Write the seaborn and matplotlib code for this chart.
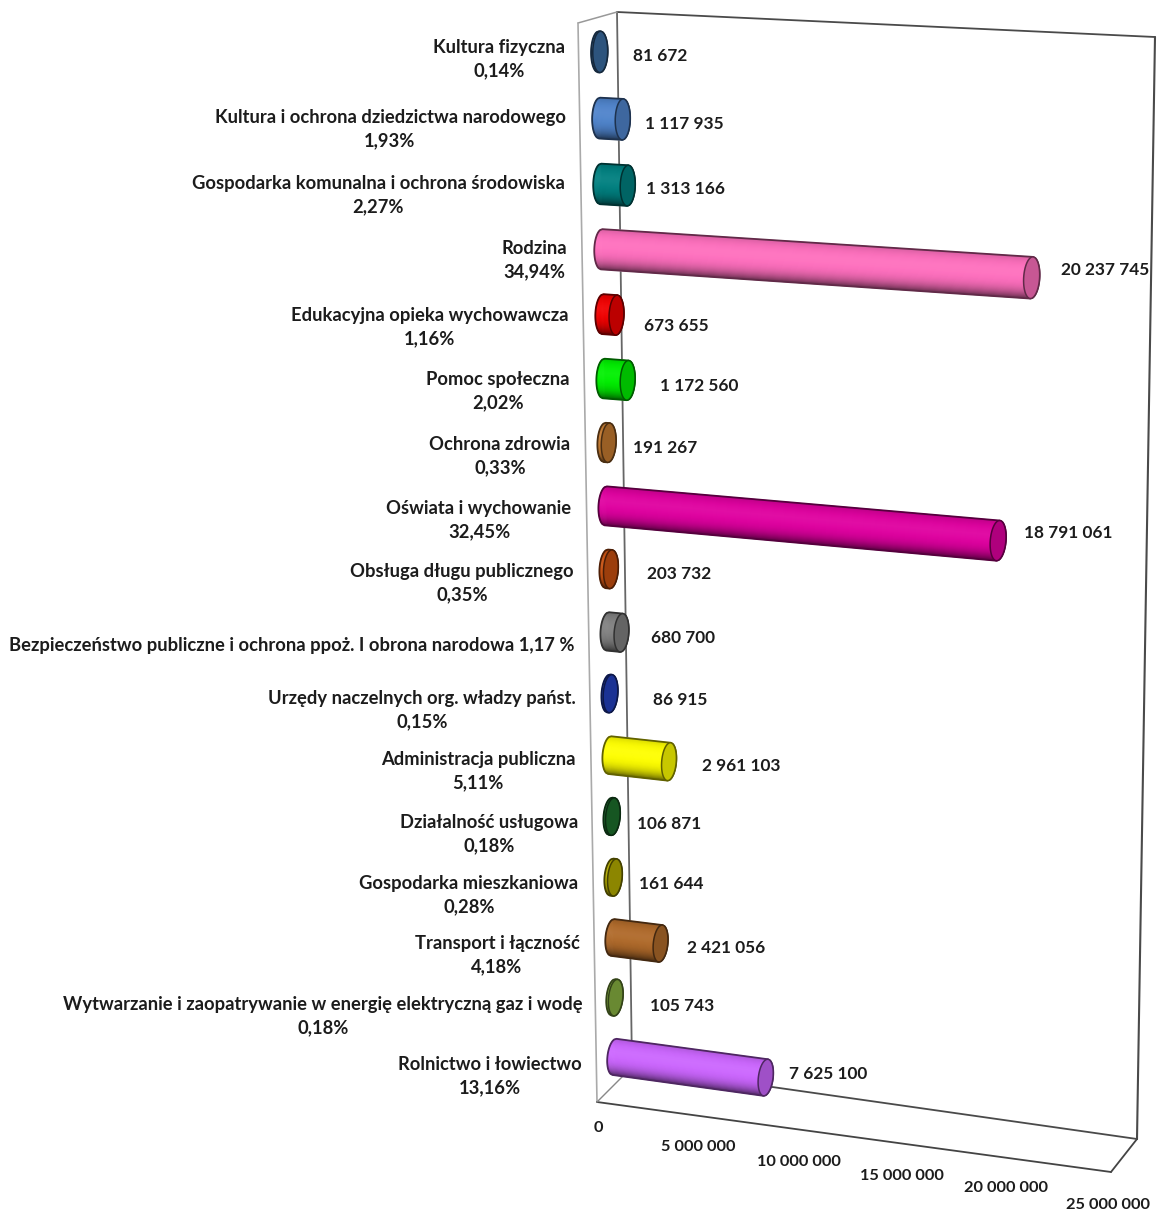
import numpy as np
import pandas as pd
import matplotlib
matplotlib.use("Agg")
import matplotlib.pyplot as plt
from matplotlib.transforms import Transform, IdentityTransform
import seaborn as sns

# dane z wykresu, od gory do dolu
dzialy = ["Kultura fizyczna", "Kultura i ochrona dziedzictwa narodowego",
          "Gospodarka komunalna i ochrona środowiska", "Rodzina",
          "Edukacyjna opieka wychowawcza", "Pomoc społeczna", "Ochrona zdrowia",
          "Oświata i wychowanie", "Obsługa długu publicznego",
          "Bezpieczeństwo publiczne i ochrona ppoż. I obrona narodowa",
          "Urzędy naczelnych org. władzy państ.", "Administracja publiczna",
          "Działalność usługowa", "Gospodarka mieszkaniowa", "Transport i łączność",
          "Wytwarzanie i zaopatrywanie w energię elektryczną gaz i wodę",
          "Rolnictwo i łowiectwo"]
udzialy = ["0,14%", "1,93%", "2,27%", "34,94%", "1,16%", "2,02%", "0,33%", "32,45%", "0,35%",
           "1,17 %", "0,15%", "5,11%", "0,18%", "0,28%", "4,18%", "0,18%", "13,16%"]
wartosci = [81672, 1117935, 1313166, 20237745, 673655, 1172560, 191267, 18791061, 203732,
            680700, 86915, 2961103, 106871, 161644, 2421056, 105743, 7625100]
kolory = ["#3A6CA0", "#4F84CC", "#008080", "#FF6FBE", "#F00000", "#00F000", "#C47A30",
          "#E000A0", "#C8500F", "#808080", "#2340BE", "#FFFF00", "#1C6E2C", "#B4AC00",
          "#B06A2A", "#86B040", "#CC66FF"]
tiki = [0, 5000000, 10000000, 15000000, 20000000, 25000000]

# pozycje opisow w pikselach (srodek x, srodek y)
poz_nazw = [(499, 59), (390, 129), (378, 195), (534, 260), (430, 327), (498, 391), (500, 456),
            (479, 520), (462, 583), (292, 645), (422, 710), (478, 771), (489, 834), (469, 895),
            (497, 955), (323, 1016), (490, 1076)]
poz_wart = [(660, 56), (684, 124), (685, 189), (1105, 270), (676, 326), (699, 386), (665, 448),
            (1068, 533), (679, 574), (683, 638), (680, 700), (741, 766), (669, 824), (671, 884),
            (726, 948), (682, 1006), (828, 1074)]
poz_tikow = [(598, 1128), (698, 1147), (799, 1162), (902, 1176), (1006, 1188), (1108, 1205)]

W, H = 1159, 1213
MAKS = 25000000


def homografia(rogi):
    # rogi: lewy-gora, prawy-gora, lewy-dol, prawy-dol
    zrodlo = [(0, 0), (1, 0), (0, 1), (1, 1)]
    A, b = [], []
    for (u, v), (x, y) in zip(zrodlo, rogi):
        A.append([u, v, 1, 0, 0, 0, -u * x, -v * x])
        A.append([0, 0, 0, u, v, 1, -u * y, -v * y])
        b += [x, y]
    return np.append(np.linalg.solve(np.array(A, float), np.array(b, float)), 1).reshape(3, 3)


class Rzut(Transform):
    # (wartosc, numer wiersza) -> piksele, perspektywa wykresu 3D
    input_dims = 2
    output_dims = 2
    has_inverse = False

    def __init__(self, rogi):
        super().__init__()
        self.m = homografia(rogi)

    def transform_non_affine(self, values):
        values = np.asarray(values, float)
        u = values[:, 0] / MAKS
        v = (values[:, 1] + 0.5) / len(dzialy)
        w = np.column_stack([u, v, np.ones_like(u)]) @ self.m.T
        return np.column_stack([w[:, 0] / w[:, 2], H - w[:, 1] / w[:, 2]])


tyl = np.array([(617, 12), (1155, 37), (632, 1067), (1137, 1139)], float)
przod = np.array([(578, 23), (1125, 48), (597, 1102), (1111, 1172)], float)
rzut = Rzut((tyl + przod) / 2 + np.array([[0.5, 1], [1, 1], [0.5, 2], [1, 2]]))

sns.set_style("white")
plt.rcParams["font.family"] = ["Lato", "DejaVu Sans"]

fig = plt.figure(figsize=(W / 100, H / 100), dpi=100)
ax = fig.add_axes([0, 0, 1, 1])

df = pd.DataFrame({"dzial": dzialy, "wartosc": wartosci})
POL = 0.31
sns.barplot(data=df, y="dzial", x="wartosc", hue="dzial", palette=kolory, orient="h",
            width=2 * POL, dodge=False, legend=False, ax=ax, zorder=3)
for p in ax.patches:
    p.set_transform(rzut)
    p.set_clip_on(False)
ax.set_xlim(0, MAKS)
ax.set_ylim(len(dzialy) - 0.5, -0.5)
ax.axis("off")

# ramka wykresu
id_t = IdentityTransform()


def linia(a, b, kolor="#4a4a4a", lw=1.3):
    ax.plot([a[0], b[0]], [H - a[1], H - b[1]], color=kolor, lw=lw, transform=id_t,
            clip_on=False, zorder=1)


linia(tyl[0], tyl[1])
linia(tyl[1], tyl[3], lw=1.5)
linia(tyl[0], tyl[2], "#666666")
linia(tyl[2], tyl[3])
linia(przod[0], tyl[0], "#999999", 1.1)
linia(przod[0], przod[2], "#aaaaaa", 1.2)
linia(przod[2], przod[3], "#444444")
linia(przod[2], tyl[2], "#888888", 1.0)
linia(przod[3], tyl[3], "#444444")

# cylindry
A_WART = 360000.0  # polowa szerokosci elipsy w jednostkach wartosci
PASY = 40
t = np.linspace(0, 2 * np.pi, 80)


def cieniowanie(kolor, d):
    # d od -1 (gora) do 1 (dol), gladko bez skokow
    c = np.array(matplotlib.colors.to_rgb(kolor))
    jasnosc = 1.0 - 0.58 * np.abs((d + 0.2) / 1.2) ** 3
    wyn = c * jasnosc
    return wyn + (1 - wyn) * 0.05 * np.exp(-((d + 0.25) / 0.35) ** 2)


for i, (w, kol) in enumerate(zip(wartosci, kolory)):
    pochyl = (0.04 + 0.09 * i / 16) * 3000000
    brzegi = np.linspace(-1, 1, PASY + 1)
    for d0, d1 in zip(brzegi[:-1], brzegi[1:]):
        dd = np.linspace(d0, d1, 5)
        s = np.sqrt(np.clip(1 - dd ** 2, 0, 1))
        xl = -A_WART * s - pochyl * dd * POL
        xp = w + A_WART * s - pochyl * dd * POL
        xs = np.r_[xl, xp[::-1]]
        ys = np.r_[i + dd * POL, i + dd[::-1] * POL]
        kol_p = cieniowanie(kol, (d0 + d1) / 2)
        ax.fill(xs, ys, facecolor=kol_p, edgecolor=kol_p, lw=0.5, transform=rzut, clip_on=False, zorder=4)

    ciemny = np.array(matplotlib.colors.to_rgb(kol)) * 0.38
    # zarys walca
    dd = np.linspace(-1, 1, 40)
    s = np.sqrt(1 - dd ** 2)
    zx = np.r_[-A_WART * s - pochyl * dd * POL, (w + A_WART * s - pochyl * dd * POL)[::-1]]
    zy = np.r_[i + dd * POL, i + dd[::-1] * POL]
    ax.fill(zx, zy, facecolor="none", edgecolor=ciemny, lw=1.3, transform=rzut, clip_on=False, zorder=5)
    # denko po prawej
    ex = w + A_WART * np.cos(t) - pochyl * np.sin(t) * POL
    ey = i + POL * np.sin(t)
    ax.fill(ex, ey, facecolor=np.array(matplotlib.colors.to_rgb(kol)) * 0.78, edgecolor=ciemny, lw=1.1,
            transform=rzut, clip_on=False, zorder=6)


def napis(x, y, tekst, rozmiar=13.2):
    fig.text(x / W, 1 - y / H, tekst, ha="center", va="center", color="#1c1c1c",
             fontweight="bold", fontsize=rozmiar, linespacing=1.45)


for i, (nazwa, udzial) in enumerate(zip(dzialy, udzialy)):
    opis = f"{nazwa} {udzial}" if nazwa.startswith("Bezpiecz") else f"{nazwa}\n{udzial}"
    napis(*poz_nazw[i], opis)
    napis(*poz_wart[i], f"{wartosci[i]:,}".replace(",", " "), 12.4)

for (x, y), tik in zip(poz_tikow, tiki):
    napis(x, y, f"{tik:,}".replace(",", " "), 11.8)

fig.savefig("out.png", dpi=100, facecolor="white")
